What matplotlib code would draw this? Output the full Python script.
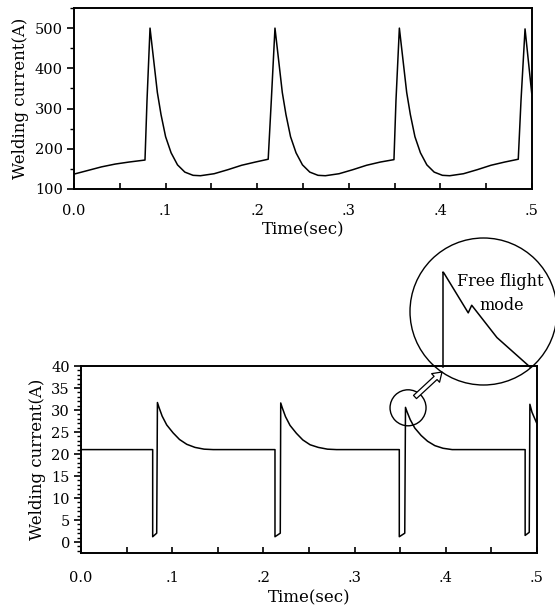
import matplotlib
matplotlib.use("Agg")
import matplotlib.pyplot as plt
from matplotlib.patches import Circle
from matplotlib.ticker import MultipleLocator, FixedLocator

# top panel: welding current (A) vs time (s)
top_t = [0.0, 0.015, 0.030, 0.045, 0.060, 0.0775, 0.0797, 0.083,
         0.087, 0.091, 0.095, 0.100, 0.106, 0.113, 0.121, 0.130, 0.138,
         0.153, 0.168, 0.183, 0.198, 0.212, 0.2154, 0.2194,
         0.2234, 0.2274, 0.2314, 0.2364, 0.2424, 0.2494, 0.2574, 0.2664, 0.2744,
         0.2894, 0.3044, 0.3194, 0.3344, 0.3493, 0.3515, 0.3552,
         0.3592, 0.3632, 0.3672, 0.3722, 0.3782, 0.3852, 0.3932, 0.4022, 0.4102,
         0.4252, 0.4402, 0.4552, 0.4702, 0.485, 0.488, 0.4924, 0.4997]
top_i = [137, 146, 155, 162, 167, 172, 320, 500,
         420, 340, 285, 230, 190, 160, 142, 134, 133,
         138, 148, 159, 167, 174, 320, 500,
         420, 340, 285, 230, 190, 160, 142, 134, 133,
         138, 148, 159, 167, 173, 320, 500,
         420, 340, 285, 230, 190, 160, 142, 134, 133,
         138, 148, 159, 167, 174, 320, 498, 338]

# bottom panel
bot_t = [0.0, 0.0786, 0.0786, 0.083, 0.0838, 0.0855, 0.089, 0.094, 0.101,
         0.108, 0.116, 0.125, 0.135, 0.145,
         0.2127, 0.2127, 0.2185, 0.219, 0.2207, 0.2242, 0.2292, 0.2362,
         0.2432, 0.2512, 0.2602, 0.2702, 0.2802,
         0.349, 0.349, 0.355, 0.3558, 0.3575, 0.361, 0.366, 0.373,
         0.380, 0.388, 0.397, 0.407, 0.417,
         0.487, 0.487, 0.4915, 0.4922, 0.4945, 0.4997]
bot_i = [21.0, 21.0, 1.2, 2.0, 31.7, 30.6, 28.6, 26.6, 24.8,
         23.3, 22.2, 21.5, 21.1, 21.0,
         21.0, 1.2, 2.0, 31.6, 30.5, 28.5, 26.5, 24.7,
         23.2, 22.1, 21.5, 21.1, 21.0,
         21.0, 1.2, 2.0, 30.6, 29.6, 27.8, 25.9, 24.2,
         22.9, 21.9, 21.3, 21.0, 21.0,
         21.0, 1.5, 2.2, 31.3, 29.5, 27.0]

# magnified view of the third peak (relative units)
zoom_t = [0.0, 0.0, 0.01, 0.29, 0.33, 0.62, 1.0]
zoom_i = [0.0, 1.0, 0.99, 0.57, 0.65, 0.31, 0.0]

xticks = [0.0, 0.1, 0.2, 0.3, 0.4, 0.5]
xtick_labels = ["0.0", ".1", ".2", ".3", ".4", ".5"]

plt.rcParams["font.family"] = ["DejaVu Serif"]
plt.rcParams["font.size"] = 10.5

W, H = 555, 610
fig = plt.figure(figsize=(W / 100, H / 100), dpi=100)


def style(ax, xpad, xlabelpad):
    for s in ax.spines.values():
        s.set_linewidth(1.4)
    ax.set_xlim(0, 0.5)
    ax.xaxis.set_major_locator(FixedLocator(xticks))
    ax.set_xticklabels(xtick_labels)
    ax.xaxis.set_minor_locator(MultipleLocator(0.05))
    ax.tick_params(axis="x", which="both", direction="in", length=4, width=1.2, pad=xpad)
    ax.tick_params(axis="y", which="major", direction="out", length=5, width=1.2, pad=3)
    ax.tick_params(axis="y", which="minor", direction="out", length=3, width=1.0)
    ax.set_xlabel("Time(sec)", fontsize=12, labelpad=xlabelpad)
    ax.set_ylabel("Welding current(A)", fontsize=12, labelpad=4)


ax1 = fig.add_axes([74 / W, 1 - 189 / H, 458 / W, 181 / H])
ax1.plot(top_t, top_i, color="black", lw=1.1)
ax1.set_ylim(100, 550)
ax1.set_yticks([100, 200, 300, 400, 500])
ax1.yaxis.set_minor_locator(MultipleLocator(50))
style(ax1, 11, 2)

ax2 = fig.add_axes([81 / W, 1 - 553 / H, 456 / W, 187 / H])
ax2.plot(bot_t, bot_i, color="black", lw=1.1)
ax2.set_ylim(-2.5, 40)
ax2.set_yticks(range(0, 41, 5))
ax2.yaxis.set_minor_locator(MultipleLocator(1))
style(ax2, 13, 3)

# inset curve above the lower panel
axz = fig.add_axes([443 / W, 1 - 367 / H, 87 / W, 95 / H])
axz.plot(zoom_t, zoom_i, color="black", lw=1.1, clip_on=False)
axz.set_xlim(0, 1)
axz.set_ylim(0, 1)
axz.axis("off")

# overlay in pixel units for the circles and arrow
ov = fig.add_axes([0, 0, 1, 1], zorder=5)
ov.set_xlim(0, W)
ov.set_ylim(H, 0)
ov.axis("off")
ov.patch.set_alpha(0)

px, py = ax2.transData.transform((0.3586, 30.5))
small_c = (px, H - py)
ov.add_patch(Circle(small_c, 18, fill=False, ec="black", lw=1.0))
ov.add_patch(Circle((483.5, 311.5), 73.5, fill=False, ec="black", lw=1.0))
ov.annotate("", xy=(442, 372), xytext=(415, 397),
            arrowprops=dict(arrowstyle="simple,head_width=0.8,head_length=0.6,tail_width=0.3",
                            fc="white", ec="black", lw=0.9, shrinkA=0, shrinkB=0))
ov.text(500, 282, "Free flight", ha="center", va="center", fontsize=11.5)
ov.text(502, 305, "mode", ha="center", va="center", fontsize=11.5)

fig.savefig("out.png", dpi=100, facecolor="white")
